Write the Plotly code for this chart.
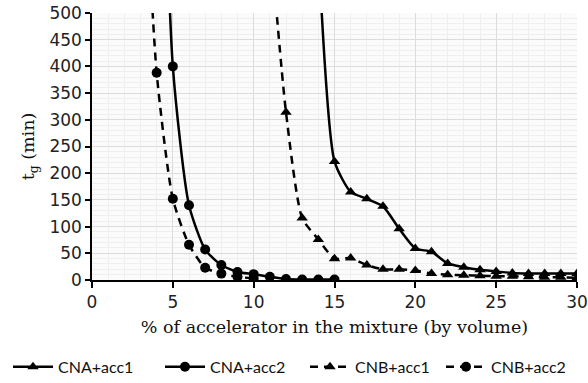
import plotly.graph_objects as go

# Data
x_cna_acc1 = [14, 15, 16, 17, 18, 19, 20, 21, 22, 23, 24, 25, 26, 27, 28, 29, 30]
y_cna_acc1 = [620, 222, 165, 152, 138, 96, 59, 53, 31, 24, 19, 16, 13, 12, 12, 12, 12]

x_cna_acc2 = [4, 5, 6, 7, 8, 9, 10, 11, 12, 13, 14, 15]
y_cna_acc2 = [1300, 400, 140, 57, 28, 15, 11, 6, 2, 1, 1, 1]

x_cnb_acc1 = [11, 12, 13, 14, 15, 16, 17, 18, 19, 20, 21, 22, 23, 24, 25, 26, 27, 28, 29, 30]
y_cnb_acc1 = [650, 314, 116, 76, 40, 41, 28, 20, 20, 18, 12, 10, 9, 8, 7, 7, 6, 5, 5, 4]

x_cnb_acc2 = [3, 4, 5, 6, 7, 8, 9, 10]
y_cnb_acc2 = [950, 388, 152, 66, 23, 12, 6, 3]

names = ["CNA+acc1", "CNA+acc2", "CNB+acc1", "CNB+acc2"]

fig = go.Figure()

def add(xs, ys, name, symbol, dash, legend):
    fig.add_trace(go.Scatter(
        x=xs, y=ys, name=name, mode="lines+markers",
        line=dict(color="black", width=2.5, dash=dash, shape="spline", smoothing=0.6),
        marker=dict(symbol=symbol, size=10, color="black"),
        cliponaxis=True, legend=legend,
    ))

add(x_cna_acc1, y_cna_acc1, names[0], "triangle-up", "solid", "legend")
add(x_cna_acc2, y_cna_acc2, names[1], "circle", "solid", "legend2")
add(x_cnb_acc1, y_cnb_acc1, names[2], "triangle-up", "8px,6px", "legend3")
add(x_cnb_acc2, y_cnb_acc2, names[3], "circle", "8px,6px", "legend4")

tickfont = dict(family="DejaVu Sans, sans-serif", size=17, color="#222")
serif = dict(family="DejaVu Serif, serif", size=17.5, color="#111")

def leg(xpix):
    return dict(orientation="h", xref="container", yref="container",
                x=xpix / 588, xanchor="left", y=0.042, yanchor="middle",
                font=dict(family="Lato, Open Sans, sans-serif", size=16, color="#111"),
                itemwidth=40, bgcolor="rgba(0,0,0,0)")

fig.update_layout(
    width=588, height=383,
    margin=dict(l=92, r=11, t=13, b=103, autoexpand=False),
    paper_bgcolor="white",
    plot_bgcolor="#fbfbfb",
    showlegend=True,
    legend=leg(8), legend2=leg(160), legend3=leg(305), legend4=leg(441),
    xaxis=dict(
        range=[0, 30], tick0=0, dtick=5, showgrid=True, gridcolor="#dcdcdc", gridwidth=1,
        minor=dict(dtick=1, showgrid=True, gridcolor="#efefef", gridwidth=1),
        ticks="outside", ticklen=6, tickcolor="black", tickwidth=1.5,
        showline=True, linecolor="black", linewidth=1.5,
        zeroline=False, tickfont=tickfont,
        title=dict(text="% of accelerator in the mixture (by volume)", font=serif, standoff=10),
    ),
    yaxis=dict(
        range=[0, 500], tick0=0, dtick=50, showgrid=True, gridcolor="#dcdcdc", gridwidth=1,
        minor=dict(dtick=10, showgrid=True, gridcolor="#efefef", gridwidth=1),
        ticks="outside", ticklen=5, tickcolor="black", tickwidth=1.5,
        showline=True, linecolor="black", linewidth=1.5,
        zeroline=False, tickfont=tickfont,
        title=dict(text="t<sub>g</sub> (min)", font=serif, standoff=10),
    ),
)

fig.write_html("out.html")
